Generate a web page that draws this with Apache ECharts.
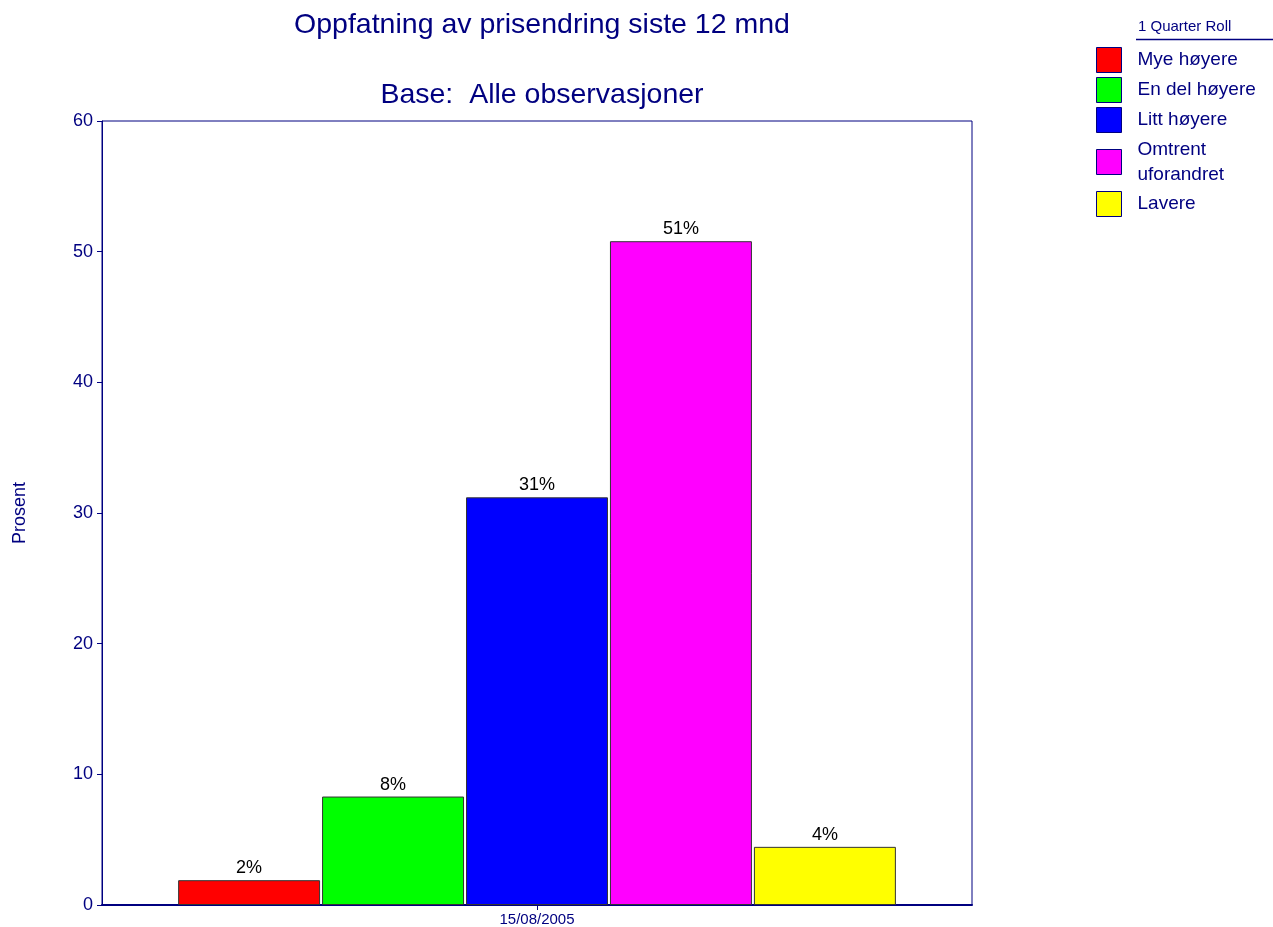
<!DOCTYPE html>
<html>
<head>
<meta charset="utf-8">
<script src="https://cdn.jsdelivr.net/npm/echarts@6/dist/echarts.min.js"></script>
<style>html,body{margin:0;padding:0;background:#fff}#c{width:1273px;height:927px}</style>
</head>
<body>
<div id="c"></div>
<script>
const categories = ['15/08/2005'];
const seriesNames = ['Mye høyere', 'En del høyere', 'Litt høyere', 'Omtrent\nuforandret', 'Lavere'];
const seriesValues = [1.9, 8.3, 31.2, 50.8, 4.45];
const seriesColors = ['#ff0000', '#00ff00', '#0000ff', '#ff00ff', '#ffff00'];
const yTicks = [0, 10, 20, 30, 40, 50, 60];

const NAVY = '#000080';
const FONT = '"Liberation Sans", Arial, sans-serif';

const chart = echarts.init(document.getElementById('c'));
const series = seriesNames.map((n, i) => ({
  name: n,
  type: 'bar',
  data: [seriesValues[i]],
  barCategoryGap: '17.5%',
  barGap: '1.4%',
  itemStyle: { color: seriesColors[i], borderColor: '#333', borderWidth: 1 },
  label: {
    show: true, position: 'top', color: '#000', fontFamily: FONT, fontSize: 18, distance: 3,
    formatter: p => Math.round(p.value) + '%'
  }
}));

chart.setOption({
  animation: false,
  textStyle: { fontFamily: FONT },
  title: [
    { text: 'Oppfatning av prisendring siste 12 mnd', left: 537, textAlign: 'center', top: 6,
      textStyle: { color: NAVY, fontSize: 28.5, fontWeight: 'normal', fontFamily: FONT } },
    { text: 'Base:  Alle observasjoner', left: 537, textAlign: 'center', top: 76,
      textStyle: { color: NAVY, fontSize: 28.5, fontWeight: 'normal', fontFamily: FONT } },
    { text: '1 Quarter Roll', left: 1133, top: 14,
      textStyle: { color: NAVY, fontSize: 15, fontWeight: 'normal', fontFamily: FONT } }
  ],
  graphic: [
    { type: 'line', shape: { x1: 1136, y1: 39.5, x2: 1273, y2: 39.5 }, style: { stroke: NAVY, lineWidth: 1.5 } }
  ],
  legend: {
    orient: 'vertical', left: 1091, top: 42,
    itemWidth: 25, itemHeight: 25, itemGap: 4,
    icon: 'rect',
    data: seriesNames,
    textStyle: { color: NAVY, fontSize: 19, fontFamily: FONT, lineHeight: 25, padding: [0, 0, 0, 11] },
    itemStyle: { borderColor: NAVY, borderWidth: 1 }
  },
  grid: {
    left: 102, right: 301, top: 121, bottom: 22, outerBoundsMode: 'none',
    show: true, borderColor: NAVY, borderWidth: 1, backgroundColor: '#fff'
  },
  xAxis: {
    type: 'category', data: categories,
    axisLine: { lineStyle: { color: NAVY, width: 2 } },
    axisTick: { show: true, alignWithLabel: true, length: 5, lineStyle: { color: NAVY } },
    axisLabel: { color: NAVY, fontSize: 15, margin: 7, fontFamily: FONT }
  },
  yAxis: {
    type: 'value', min: yTicks[0], max: yTicks[yTicks.length - 1], interval: 10,
    name: 'Prosent', nameLocation: 'middle', nameGap: 73, nameRotate: 90,
    nameTextStyle: { color: NAVY, fontSize: 18, fontFamily: FONT },
    axisLine: { show: true, lineStyle: { color: NAVY, width: 1 } },
    axisTick: { show: true, length: 5, lineStyle: { color: NAVY } },
    axisLabel: { color: NAVY, fontSize: 18, margin: 9, fontFamily: FONT },
    splitLine: { show: false }
  },
  series: series
});
</script>
</body>
</html>
